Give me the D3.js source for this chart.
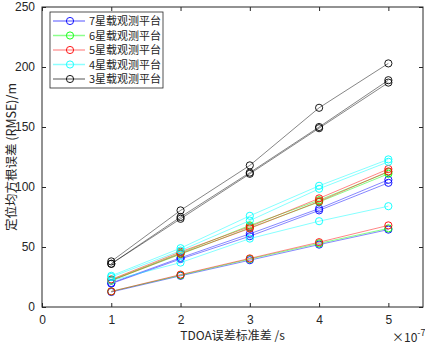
<html>
<head>
<script src="https://d3js.org/d3.v7.min.js"></script>
<style>
body { margin: 0; background: #fff; }
.tick text { font-family: Arial, "Liberation Sans", sans-serif; font-size: 12px; fill: #262626; }
.label { font-family: "Noto Sans CJK SC", sans-serif; fill: #262626; }
</style>
</head>
<body>
<div id="chart"></div>
<script>
// TDOA std (x1e-7 s)
var xs = [1, 2, 3, 4, 5];
var xTicks = [0, 1, 2, 3, 4, 5];
var yTicks = [0, 50, 100, 150, 200, 250];

var names = ["7星载观测平台", "6星载观测平台", "5星载观测平台", "4星载观测平台", "3星载观测平台"];
var colors = ["#0000ff", "#00ff00", "#ff0000", "#00ffff", "#000000"];
var legendLine = ["#8c8cff", "#8cff8c", "#ffa0a0", "#8cffff", "#8c8c8c"];

// three runs per platform count
var sat7 = [[20, 41, 61, 82, 106], [19.5, 40, 59, 80.5, 103.5], [12.5, 26, 39, 52, 64.5]];
var sat6 = [[22.5, 45, 68, 89, 112.5], [22, 44, 66, 87.5, 111], [13, 26.5, 40, 53, 65.5]];
var sat5 = [[23, 46, 67, 90.5, 115], [22, 44.5, 65.5, 88, 113], [13, 27, 40.5, 54, 68]];
var sat4 = [[26, 49, 76, 101, 123], [25, 47, 72, 98.5, 121], [22, 37, 57, 71.5, 84]];
var sat3 = [[38, 80.5, 118, 166, 203], [36, 75, 112, 150, 189], [36, 73.5, 111, 149, 187]];
var groups = [sat7, sat6, sat5, sat4, sat3];

var W = 425, H = 345;
var pl = 42, pr = 423, pt = 7, pb = 307;

var svg = d3.select("#chart").append("svg")
    .attr("width", W).attr("height", H);

var x = d3.scaleLinear().domain([0, 5.5]).range([pl, pr]);
var y = d3.scaleLinear().domain([0, 250]).range([pb, pt]);

// box
svg.append("rect")
    .attr("x", pl).attr("y", pt)
    .attr("width", pr - pl).attr("height", pb - pt)
    .attr("fill", "none").attr("stroke", "#262626").attr("stroke-width", 1);

var xaxis = d3.axisBottom(x).tickValues(xTicks).tickSize(-4).tickPadding(8).tickFormat(d3.format("d"));
var yaxis = d3.axisLeft(y).tickValues(yTicks).tickSize(-4).tickPadding(7);

svg.append("g").attr("transform", "translate(0," + pb + ")").call(xaxis);
svg.append("g").attr("transform", "translate(" + pl + ",0)").call(yaxis);
// top / right ticks
svg.append("g").attr("transform", "translate(0," + pt + ")")
    .call(d3.axisTop(x).tickValues(xTicks).tickSize(-4).tickFormat(""));
svg.append("g").attr("transform", "translate(" + pr + ",0)")
    .call(d3.axisRight(y).tickValues(yTicks).tickSize(-4).tickFormat(""));
svg.selectAll(".domain").remove();
svg.selectAll(".tick line").attr("stroke", "#262626");

var line = d3.line().x(function(d, i) { return x(xs[i]); }).y(function(d) { return y(d); });

groups.forEach(function(g, gi) {
    g.forEach(function(s) {
        svg.append("path")
            .attr("d", line(s))
            .attr("fill", "none")
            .attr("stroke", colors[gi])
            .attr("stroke-opacity", 0.6)
            .attr("stroke-width", 0.8);
        svg.selectAll(null)
            .data(s)
            .enter()
            .append("circle")
            .attr("cx", function(d, i) { return x(xs[i]); })
            .attr("cy", function(d) { return y(d); })
            .attr("r", 3.6)
            .attr("fill", "none")
            .attr("stroke", colors[gi])
            .attr("stroke-width", 0.9);
    });
});

// legend
var lg = svg.append("g");
lg.append("rect")
    .attr("x", 50).attr("y", 12).attr("width", 113).attr("height", 76)
    .attr("fill", "#fff").attr("stroke", "#262626").attr("stroke-width", 0.8);
names.forEach(function(n, i) {
    var ly = 21 + i * 14.5;
    lg.append("line").attr("x1", 53).attr("x2", 85).attr("y1", ly).attr("y2", ly)
        .attr("stroke", legendLine[i]).attr("stroke-width", 1.5);
    lg.append("circle").attr("cx", 70).attr("cy", ly).attr("r", 3.6)
        .attr("fill", "none").attr("stroke", colors[i]).attr("stroke-width", 0.9);
    lg.append("text").attr("class", "label")
        .attr("x", 89).attr("y", ly + 4)
        .attr("font-size", "11px")
        .text(n);
});

// axis labels
svg.append("text").attr("class", "label")
    .attr("text-anchor", "middle")
    .attr("x", (pl + pr) / 2).attr("y", 340)
    .attr("font-size", "12px")
    .text("TDOA误差标准差 /s");

svg.append("text").attr("class", "label")
    .attr("text-anchor", "middle")
    .attr("transform", "translate(16," + ((pt + pb) / 2) + ") rotate(-90)")
    .attr("font-size", "12.5px")
    .text("定位均方根误差 (RMSE)/m");

var ex = svg.append("text").attr("class", "label")
    .attr("x", 392).attr("y", 342)
    .attr("font-size", "12px")
    .attr("font-family", "Arial, 'Liberation Sans', sans-serif");
ex.append("tspan").text("×10");
ex.append("tspan").attr("dy", -6).attr("font-size", "9px").text("-7");
</script>
</body>
</html>
